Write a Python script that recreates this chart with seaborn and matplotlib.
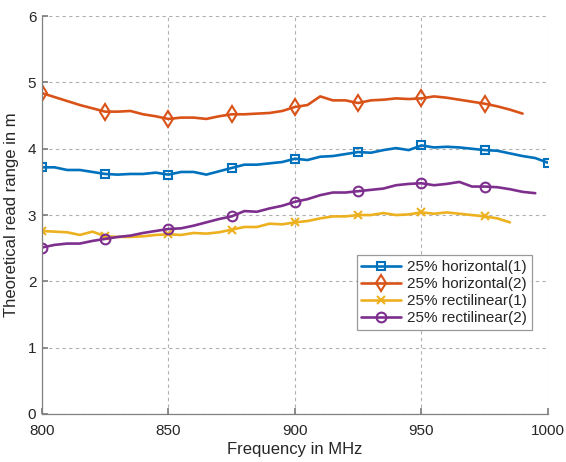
import numpy as np
import pandas as pd
import matplotlib
matplotlib.use("Agg")
import matplotlib.pyplot as plt
import seaborn as sns

freq = list(range(800, 1001, 5))

h1 = [3.72, 3.72, 3.68, 3.68, 3.65, 3.62, 3.61, 3.62, 3.62, 3.64, 3.61,
      3.65, 3.65, 3.61, 3.66, 3.71, 3.76, 3.76, 3.78, 3.80, 3.85,
      3.83, 3.88, 3.89, 3.92, 3.95, 3.94, 3.98, 4.01, 3.98, 4.05,
      4.02, 4.03, 4.02, 4.00, 3.98, 3.97, 3.93, 3.89, 3.86, 3.79]
h2 = [4.84, 4.78, 4.72, 4.66, 4.61, 4.56, 4.56, 4.57, 4.52, 4.49, 4.45,
      4.47, 4.47, 4.45, 4.49, 4.52, 4.52, 4.53, 4.54, 4.57, 4.63,
      4.66, 4.79, 4.73, 4.73, 4.69, 4.73, 4.74, 4.76, 4.75, 4.76,
      4.79, 4.77, 4.74, 4.71, 4.68, 4.64, 4.59, 4.53, None, None]
r1 = [2.76, 2.75, 2.74, 2.70, 2.75, 2.68, 2.67, 2.67, 2.68, 2.70, 2.71,
      2.70, 2.73, 2.72, 2.74, 2.78, 2.82, 2.82, 2.87, 2.86, 2.89,
      2.91, 2.95, 2.98, 2.98, 3.00, 3.00, 3.03, 3.00, 3.01, 3.04,
      3.02, 3.04, 3.02, 3.00, 2.98, 2.95, 2.89, None, None, None]
r2 = [2.51, 2.55, 2.57, 2.57, 2.61, 2.64, 2.67, 2.69, 2.73, 2.76, 2.79,
      2.80, 2.84, 2.89, 2.94, 2.98, 3.06, 3.05, 3.10, 3.14, 3.20,
      3.24, 3.30, 3.34, 3.34, 3.36, 3.38, 3.40, 3.45, 3.47, 3.48,
      3.45, 3.47, 3.50, 3.43, 3.43, 3.42, 3.39, 3.35, 3.33, None]

names = ["25% horizontal(1)", "25% horizontal(2)", "25% rectilinear(1)", "25% rectilinear(2)"]
series = [h1, h2, r1, r2]
colors = ["#0072BD", "#D95319", "#EDB120", "#7E2F8E"]
markers = ["s", "d", "x", "o"]
msizes = [6, 8, 6, 7]

xticks = [800, 850, 900, 950, 1000]
yticks = [0, 1, 2, 3, 4, 5, 6]

sns.set_theme(style="white")
plt.rcParams['font.family'] = ['Liberation Sans', 'DejaVu Sans']

fig = plt.figure(figsize=(5.66, 4.62), dpi=100)
ax = fig.add_axes([0.074, 0.104, 0.894, 0.861])

for name, vals, c, m, ms in zip(names, series, colors, markers, msizes):
    df = pd.DataFrame({"f": freq, "v": vals}).dropna()
    sns.lineplot(data=df, x="f", y="v", ax=ax, color=c, marker=m, markersize=ms,
                 markevery=5, markerfacecolor="none", markeredgecolor=c,
                 markeredgewidth=1.5, linewidth=1.9, label=name)

ax.set_xlim(800, 1000)
ax.set_ylim(0, 6)
ax.set_xticks(xticks)
ax.set_yticks(yticks)
ax.grid(True, linestyle=(0, (3, 3)), color="#b0b0b0", linewidth=0.8)
for s in ["top", "right"]:
    ax.spines[s].set_visible(False)
for s in ["left", "bottom"]:
    ax.spines[s].set_color("#808080")
    ax.spines[s].set_linewidth(0.9)
ax.tick_params(axis="both", direction="in", length=4, color="#808080",
               labelsize=11, labelcolor="#262626", left=True, bottom=True)
ax.tick_params(axis="x", pad=7)
ax.tick_params(axis="y", pad=4)
ax.set_xlabel("Frequency in MHz", fontsize=12, color="#262626", labelpad=3)
ax.set_ylabel("Theoretical read range in m", fontsize=12, color="#262626", labelpad=6)

leg = ax.legend(loc="lower right", bbox_to_anchor=(0.968, 0.212), fontsize=11,
                frameon=True, fancybox=False, edgecolor="#808080",
                borderpad=0.3, labelspacing=0.2, handlelength=2.6, handletextpad=0.4,
                borderaxespad=0)
leg.get_frame().set_linewidth(0.9)

fig.savefig("out.png", dpi=100)
